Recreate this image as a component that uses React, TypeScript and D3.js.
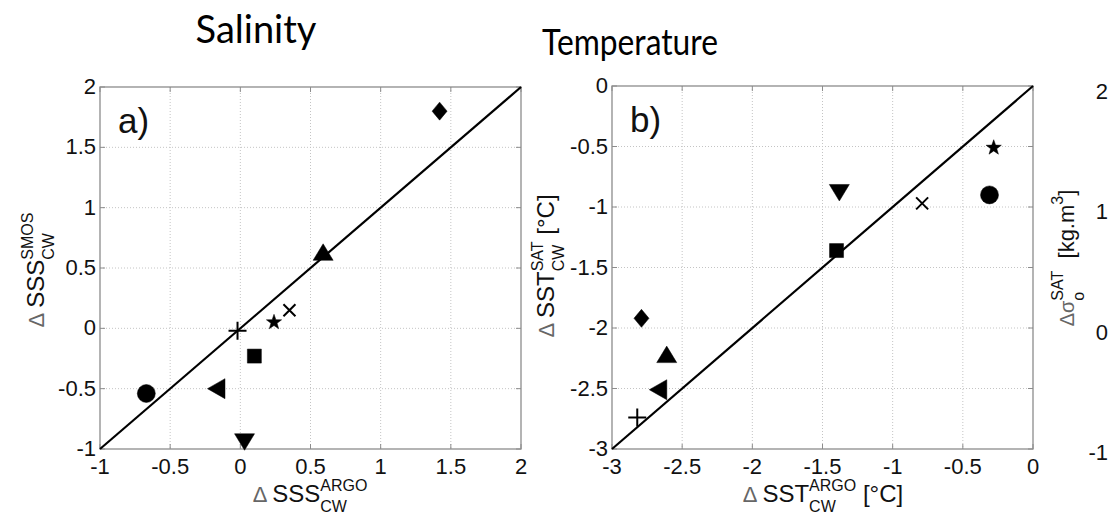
import React, { useEffect, useRef } from "react";
import * as d3 from "d3";

const W = 1109;
const H = 517;

// Marker order shared by both panels
const markerTypes = ["diamond", "triangleUp", "x", "star", "square", "plus", "triangleLeft", "circle", "triangleDown"];

// Panel a) Salinity
const salArgo = [1.42, 0.59, 0.35, 0.24, 0.1, -0.02, -0.17, -0.67, 0.03];
const salSmos = [1.8, 0.63, 0.15, 0.05, -0.23, -0.02, -0.5, -0.54, -0.94];
const salTicks = [-1, -0.5, 0, 0.5, 1, 1.5, 2];

// Panel b) Temperature
const tempArgo = [-2.79, -2.61, -0.79, -0.28, -1.4, -2.82, -2.67, -0.31, -1.38];
const tempSat = [-1.92, -2.22, -0.97, -0.51, -1.36, -2.74, -2.51, -0.9, -0.88];
const tempTicks = [-3, -2.5, -2, -1.5, -1, -0.5, 0];

// Partially visible third panel (density) tick labels
const densTicks = [2, 1, 0, -1];
const densTickLabels = ["2", "1", "0", "-1"];

const titles = ["Salinity", "Temperature"];

const FONT = "'Liberation Sans', Arial, Helvetica, sans-serif";

type Seg = { t?: string; sup?: string; sub?: string; size: number; fill?: string };

function drawLabel(
  parent: d3.Selection<SVGGElement, unknown, null, undefined>,
  segs: Seg[],
  cx: number,
  cy: number,
  rotate: number
) {
  const g = parent.append("g");
  const inner = g.append("g");
  let cursor = 0;
  segs.forEach((s) => {
    if (s.t !== undefined) {
      const el = inner
        .append("text")
        .attr("x", cursor)
        .attr("y", 0)
        .attr("font-family", FONT)
        .attr("font-size", s.size)
        .attr("fill", s.fill || "#111")
        .style("white-space", "pre")
        .text(s.t);
      cursor += (el.node() as SVGTextElement).getComputedTextLength();
    } else {
      let w = 0;
      if (s.sup) {
        const el = inner
          .append("text")
          .attr("x", cursor)
          .attr("y", -11)
          .attr("font-family", FONT)
          .attr("font-size", s.size)
          .attr("fill", "#111")
          .text(s.sup);
        w = Math.max(w, (el.node() as SVGTextElement).getComputedTextLength());
      }
      if (s.sub) {
        const el = inner
          .append("text")
          .attr("x", cursor)
          .attr("y", 10)
          .attr("font-family", FONT)
          .attr("font-size", s.size)
          .attr("fill", "#111")
          .text(s.sub);
        w = Math.max(w, (el.node() as SVGTextElement).getComputedTextLength());
      }
      cursor += w;
    }
  });
  inner.attr("transform", `translate(${-cursor / 2},0)`);
  g.attr("transform", `translate(${cx},${cy}) rotate(${rotate})`);
}

function markerPath(type: string): string {
  const p = d3.path();
  switch (type) {
    case "diamond":
      p.moveTo(0, -9); p.lineTo(7.5, 0); p.lineTo(0, 9); p.lineTo(-7.5, 0); p.closePath();
      break;
    case "triangleUp":
      p.moveTo(0, -8.5); p.lineTo(10, 8); p.lineTo(-10, 8); p.closePath();
      break;
    case "triangleDown":
      p.moveTo(0, 8.5); p.lineTo(10, -8); p.lineTo(-10, -8); p.closePath();
      break;
    case "triangleLeft":
      p.moveTo(-9, 0); p.lineTo(8.5, -10); p.lineTo(8.5, 10); p.closePath();
      break;
    case "square":
      p.rect(-7, -7, 14, 14);
      break;
    case "circle":
      p.arc(0, 0, 9, 0, Math.PI * 2);
      break;
    case "star": {
      const R = 8, r = 3.2;
      for (let i = 0; i < 10; i++) {
        const a = -Math.PI / 2 + (i * Math.PI) / 5;
        const rr = i % 2 === 0 ? R : r;
        if (i === 0) p.moveTo(rr * Math.cos(a), rr * Math.sin(a));
        else p.lineTo(rr * Math.cos(a), rr * Math.sin(a));
      }
      p.closePath();
      break;
    }
    case "x":
      p.moveTo(-6, -6); p.lineTo(6, 6); p.moveTo(6, -6); p.lineTo(-6, 6);
      break;
    case "plus":
      p.moveTo(-9, 0); p.lineTo(9, 0); p.moveTo(0, -9); p.lineTo(0, 9);
      break;
  }
  return p.toString();
}

function drawPanel(
  svg: d3.Selection<SVGGElement, unknown, null, undefined>,
  box: { l: number; r: number; t: number; b: number },
  domain: [number, number],
  ticks: number[],
  xs: number[],
  ys: number[],
  letter: string
) {
  const x = d3.scaleLinear().domain(domain).range([box.l, box.r]);
  const y = d3.scaleLinear().domain(domain).range([box.b, box.t]);
  const g = svg.append("g");
  const fmt = (v: number) => String(v);

  // grid
  ticks.forEach((v) => {
    if (v !== domain[0] && v !== domain[1]) {
      g.append("line").attr("x1", x(v)).attr("x2", x(v)).attr("y1", box.t).attr("y2", box.b)
        .attr("stroke", "#c4c4c4").attr("stroke-width", 1).attr("stroke-dasharray", "1,2");
      g.append("line").attr("y1", y(v)).attr("y2", y(v)).attr("x1", box.l).attr("x2", box.r)
        .attr("stroke", "#c4c4c4").attr("stroke-width", 1).attr("stroke-dasharray", "1,2");
    }
  });
  // box
  g.append("rect").attr("x", box.l).attr("y", box.t).attr("width", box.r - box.l).attr("height", box.b - box.t)
    .attr("fill", "none").attr("stroke", "#8c8c8c").attr("stroke-width", 1.3);
  // ticks inward on all sides
  const tl = 5;
  ticks.forEach((v) => {
    g.append("line").attr("x1", x(v)).attr("x2", x(v)).attr("y1", box.b).attr("y2", box.b - tl).attr("stroke", "#8c8c8c");
    g.append("line").attr("x1", x(v)).attr("x2", x(v)).attr("y1", box.t).attr("y2", box.t + tl).attr("stroke", "#8c8c8c");
    g.append("line").attr("y1", y(v)).attr("y2", y(v)).attr("x1", box.l).attr("x2", box.l + tl).attr("stroke", "#8c8c8c");
    g.append("line").attr("y1", y(v)).attr("y2", y(v)).attr("x1", box.r).attr("x2", box.r - tl).attr("stroke", "#8c8c8c");
  });
  // tick labels
  ticks.forEach((v) => {
    g.append("text").attr("x", x(v)).attr("y", box.b + 25).attr("text-anchor", "middle")
      .attr("font-family", FONT).attr("font-size", 22).attr("fill", "#111").text(fmt(v));
    g.append("text").attr("x", box.l - 4).attr("y", y(v) + 7).attr("text-anchor", "end")
      .attr("font-family", FONT).attr("font-size", 22).attr("fill", "#111").text(fmt(v));
  });
  // 1:1 line
  g.append("line").attr("x1", x(domain[0])).attr("y1", y(domain[0])).attr("x2", x(domain[1])).attr("y2", y(domain[1]))
    .attr("stroke", "#000").attr("stroke-width", 2.2);
  // markers
  markerTypes.forEach((m, i) => {
    const stroked = m === "x" || m === "plus";
    g.append("path").attr("d", markerPath(m)).attr("transform", `translate(${x(xs[i])},${y(ys[i])})`)
      .attr("fill", stroked ? "none" : "#000").attr("stroke", "#000").attr("stroke-width", stroked ? 2 : 0.5);
  });
  // panel letter
  g.append("text").attr("x", box.l + 18).attr("y", box.t + 46).attr("font-family", FONT).attr("font-size", 35)
    .attr("fill", "#111").text(letter);
}

export default function App() {
  const ref = useRef<SVGSVGElement>(null);
  useEffect(() => {
    const root = d3.select(ref.current as SVGSVGElement);
    root.selectAll("*").remove();
    const svg = root.append("g") as unknown as d3.Selection<SVGGElement, unknown, null, undefined>;
    svg.append("rect").attr("width", W).attr("height", H).attr("fill", "#fff");

    const boxA = { l: 100, r: 521, t: 87, b: 449 };
    const boxB = { l: 612, r: 1033, t: 86, b: 449 };
    drawPanel(svg, boxA, [-1, 2], salTicks, salArgo, salSmos, "a)");
    drawPanel(svg, boxB, [-3, 0], tempTicks, tempArgo, tempSat, "b)");

    // titles
    svg.append("text").attr("x", 256).attr("y", 43).attr("text-anchor", "middle")
      .attr("font-family", "Lato, 'Open Sans', sans-serif").attr("font-size", 38).attr("fill", "#000").text(titles[0]);
    svg.append("text").attr("x", 630).attr("y", 55).attr("text-anchor", "middle")
      .attr("font-family", "Lato, 'Open Sans', sans-serif").attr("font-size", 36).attr("fill", "#000")
      .attr("textLength", 176).attr("lengthAdjust", "spacingAndGlyphs").text(titles[1]);

    // axis labels
    drawLabel(svg, [
      { t: "Δ ", size: 22, fill: "#666" }, { t: "SSS", size: 24 }, { sup: "ARGO", sub: "CW", size: 16 },
    ], 310, 502, 0);
    drawLabel(svg, [
      { t: "Δ ", size: 22, fill: "#666" }, { t: "SSS", size: 24 }, { sup: "SMOS", sub: "CW", size: 16 },
    ], 44, 270, -90);
    drawLabel(svg, [
      { t: "Δ ", size: 22, fill: "#666" }, { t: "SST", size: 24 }, { sup: "ARGO", sub: "CW", size: 16 }, { t: " [°C]", size: 24 },
    ], 823, 502, 0);
    drawLabel(svg, [
      { t: "Δ ", size: 22, fill: "#666" }, { t: "SST", size: 24 }, { sup: "SAT", sub: "CW", size: 16 }, { t: " [°C]", size: 24 },
    ], 554, 266, -90);
    drawLabel(svg, [
      { t: "Δ", size: 20, fill: "#666" }, { t: "σ", size: 20, fill: "#666" }, { sup: "SAT", sub: "o", size: 16 },
      { t: "  [kg.m", size: 22 }, { sup: "3", size: 16 }, { t: "]", size: 22 },
    ], 1074, 258, -90);

    // third panel tick labels (at the picture edge)
    const yC = d3.scaleLinear().domain([-1, 2]).range([452, 91]);
    densTicks.forEach((v, i) => {
      svg.append("text").attr("x", 1108).attr("y", yC(v) + 8).attr("text-anchor", "end")
        .attr("font-family", FONT).attr("font-size", 22).attr("fill", "#111").text(densTickLabels[i]);
    });
  }, []);
  return (
    <svg ref={ref} width={W} height={H} style={{ position: "fixed", left: 0, top: 0, display: "block" }} />
  );
}
